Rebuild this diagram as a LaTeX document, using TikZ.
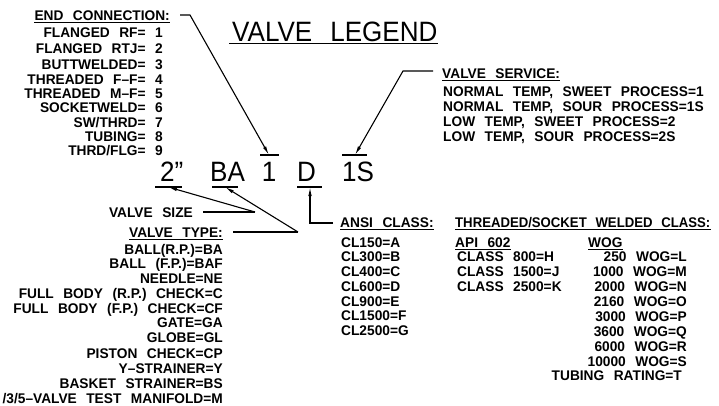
\documentclass[tikz,border=0pt]{standalone}
\usepackage{fontspec}
\setmainfont[FakeStretch=0.98,WordSpace=2.5]{Liberation Sans}
\newfontfamily\bigf[FakeStretch=0.93,WordSpace=2.5]{Liberation Sans}
\newfontfamily\narf[FakeStretch=0.94,WordSpace=2.4]{Liberation Sans}
\usetikzlibrary{arrows.meta}
\newcommand\ulnode[1]{\draw[ulin] ([yshift=-2pt]#1.base west) -- ([yshift=-2pt]#1.base east);}
\begin{document}
\begin{tikzpicture}[x=1pt,y=-1pt,
  sm/.style={font=\bfseries\fontsize{14}{14}\selectfont, inner sep=0pt},
  smn/.style={font=\narf\bfseries\fontsize{14}{14}\selectfont, inner sep=0pt},
  big/.style={font=\bigf\fontsize{28}{28}\selectfont, inner sep=0pt},
  lead/.style={line width=1.1pt},
  arr/.style={lead, -{Latex[length=9pt,width=3.5pt]}},
  barl/.style={line width=1.1pt},
  ulin/.style={line width=1pt}]
\useasboundingbox (0,0) rectangle (719,406);

% title
\node[big, anchor=base west] (title) at (232,42) {VALVE LEGEND};
\draw[ulin] ([xshift=-3pt,yshift=-2pt]title.base west) -- ([yshift=-2pt]title.base east);

% end connection
\node[sm, anchor=base east] (ec) at (170,21) {END CONNECTION:};
\ulnode{ec}
\node[sm, anchor=base east] (e1) at (163,38) {FLANGED RF= 1};
\node[sm, anchor=base east] (e2) at (163,54) {FLANGED RTJ= 2};
\node[sm, anchor=base east] (e3) at (163,70) {BUTTWELDED= 3};
\node[sm, anchor=base east] (e4) at (163,85) {THREADED F–F= 4};
\node[sm, anchor=base east] (e5) at (163,99) {THREADED M–F= 5};
\node[sm, anchor=base east] (e6) at (163,113) {SOCKETWELD= 6};
\node[sm, anchor=base east] (e7) at (163,128) {SW/THRD= 7};
\node[sm, anchor=base east] (e8) at (163,142) {TUBING= 8};
\node[sm, anchor=base east] (e9) at (163,156) {THRD/FLG= 9};

% valve service
\node[sm, anchor=base west] (vs) at (442,79) {VALVE SERVICE:};
\ulnode{vs}
\node[sm, anchor=base west] (s1) at (443,97) {NORMAL TEMP, SWEET PROCESS=1};
\node[sm, anchor=base west] (s2) at (443,112) {NORMAL TEMP, SOUR PROCESS=1S};
\node[sm, anchor=base west] (s3) at (443,127) {LOW TEMP, SWEET PROCESS=2};
\node[sm, anchor=base west] (s4) at (443,142) {LOW TEMP, SOUR PROCESS=2S};

% code
\node[big, anchor=base west] (c2) at (160,182) {2”};
\node[big, anchor=base west] (cBA) at (210,182) {BA};
\node[big, anchor=base] (c1) at (269,182) {1};
\node[big, anchor=base west] (cD) at (297,182) {D};
\node[big, anchor=base west] (c1S) at (342,182) {1S};

\coordinate (t1) at (269,155);
\coordinate (t1S) at (355,155);
\coordinate (t2) at (168,187);
\coordinate (tBA) at (225,187);
\coordinate (tD) at (310,187);
\draw[barl] (260,155) -- (279,155);
\draw[barl] (342,155) -- (367,155);
\draw[barl] (155,187) -- (182,187);
\draw[barl] (212,187) -- (238,187);
\draw[barl] (297,187) -- (322,187);

% leaders top
\coordinate (ecL) at (180,15);
\draw[arr] (ecL) -- (190,15) -- (t1);
\coordinate (vsL) at (433,71);
\draw[arr] (vsL) -- (403,71) -- (t1S);

% valve size / type
\node[sm, anchor=base east] (vsz) at (193,217) {VALVE SIZE};
\node[sm, anchor=base east] (vt) at (223,237) {VALVE TYPE:};
\ulnode{vt}
\coordinate (jS) at (255,212);
\coordinate (jT) at (298,232);
\draw[lead] (203,212) -- (jS);
\draw[arr] (jS) -- (t2);
\draw[lead] (233,232) -- (jT);
\draw[arr] (jT) -- (tBA);

\node[sm, anchor=base east] (t01) at (223,254) {BALL(R.P.)=BA};
\node[sm, anchor=base east] (t02) at (223,268) {BALL (F.P.)=BAF};
\node[sm, anchor=base east] (t03) at (223,283) {NEEDLE=NE};
\node[sm, anchor=base east] (t04) at (223,298) {FULL BODY (R.P.) CHECK=C};
\node[sm, anchor=base east] (t05) at (223,313) {FULL BODY (F.P.) CHECK=CF};
\node[sm, anchor=base east] (t06) at (223,327) {GATE=GA};
\node[sm, anchor=base east] (t07) at (223,342) {GLOBE=GL};
\node[sm, anchor=base east] (t08) at (223,358) {PISTON CHECK=CP};
\node[sm, anchor=base east] (t09) at (223,373) {Y–STRAINER=Y};
\node[sm, anchor=base east] (t10) at (223,388) {BASKET STRAINER=BS};
\node[sm, anchor=base east] (t11) at (223,403) {/3/5–VALVE TEST MANIFOLD=M};

% ANSI
\node[sm, anchor=base west] (an) at (340,227) {ANSI CLASS:};
\ulnode{an}
\draw[arr] ([xshift=-7pt,yshift=4pt]an.base west) -- (310,223) -- (tD);
\node[sm, anchor=base west] (a1) at (341,247) {CL150=A};
\node[sm, anchor=base west] (a2) at (341,261) {CL300=B};
\node[sm, anchor=base west] (a3) at (341,276) {CL400=C};
\node[sm, anchor=base west] (a4) at (341,291) {CL600=D};
\node[sm, anchor=base west] (a5) at (341,306) {CL900=E};
\node[sm, anchor=base west] (a6) at (341,320) {CL1500=F};
\node[sm, anchor=base west] (a7) at (341,335) {CL2500=G};

% threaded / socket welded
\node[smn, anchor=base west] (th) at (455,227) {THREADED/SOCKET WELDED CLASS:};
\ulnode{th}
\node[sm, anchor=base west] (api) at (455,247) {API 602};
\ulnode{api}
\node[sm, anchor=base west] (p1) at (457,261) {CLASS 800=H};
\node[sm, anchor=base west] (p2) at (457,276) {CLASS 1500=J};
\node[sm, anchor=base west] (p3) at (457,291) {CLASS 2500=K};
\node[sm, anchor=base west] (wog) at (588,247) {WOG};
\ulnode{wog}
\node[sm, anchor=base east] (w1) at (687,261) {250 WOG=L};
\node[sm, anchor=base east] (w2) at (687,276) {1000 WOG=M};
\node[sm, anchor=base east] (w3) at (687,291) {2000 WOG=N};
\node[sm, anchor=base east] (w4) at (687,306) {2160 WOG=O};
\node[sm, anchor=base east] (w5) at (687,321) {3000 WOG=P};
\node[sm, anchor=base east] (w6) at (687,336) {3600 WOG=Q};
\node[sm, anchor=base east] (w7) at (687,351) {6000 WOG=R};
\node[sm, anchor=base east] (w8) at (687,366) {10000 WOG=S};
\node[sm, anchor=base east] (w9) at (682,380) {TUBING RATING=T};
\end{tikzpicture}
\end{document}
